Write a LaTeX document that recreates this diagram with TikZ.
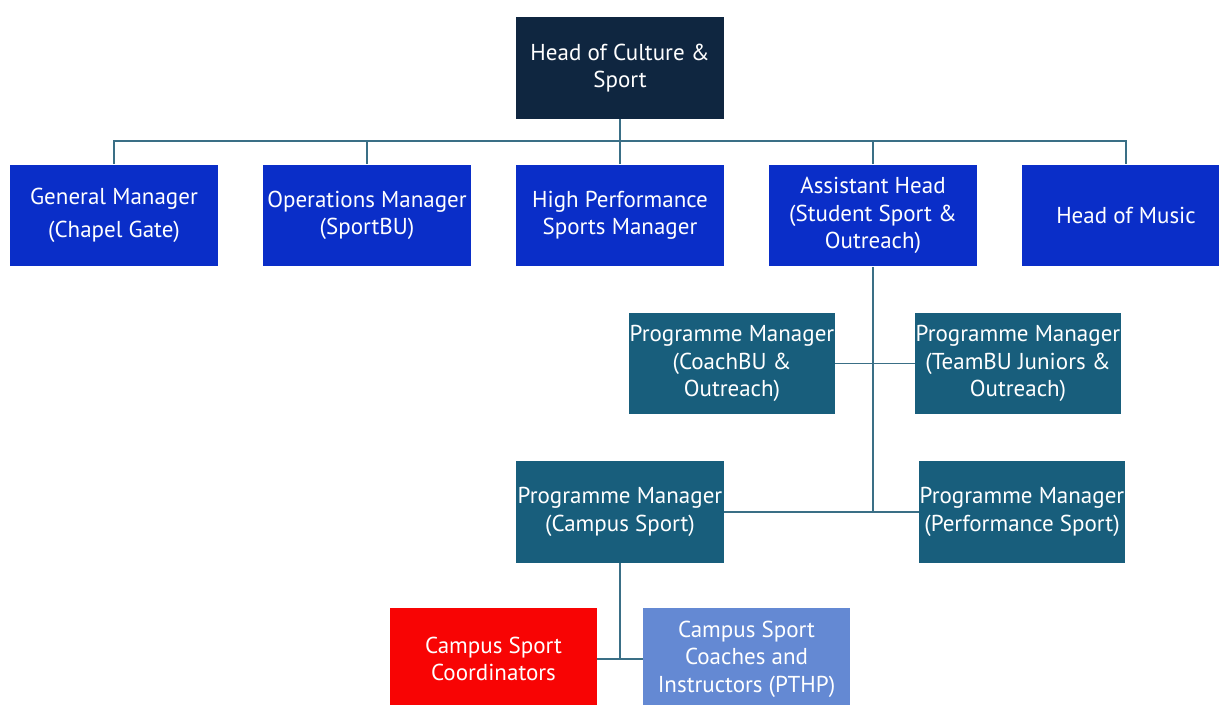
\documentclass[tikz,border=0pt]{standalone}
\usepackage{fontspec}
\setmainfont{PT Sans}
\usepackage{xcolor}
\usepackage{tikz}
\usetikzlibrary{positioning, calc}

\definecolor{headnavy}{HTML}{0F2640}
\definecolor{deptblue}{HTML}{0A2EC8}
\definecolor{progteal}{HTML}{185E7C}
\definecolor{coordred}{HTML}{F80404}
\definecolor{coachblue}{HTML}{6489D3}
\definecolor{linkteal}{HTML}{3A6F86}

\begin{document}
\begin{tikzpicture}[x=0.02cm, y=-0.02cm,
    role/.style={text=white, align=center, inner sep=0pt, minimum width=4.16cm, minimum height=2.04cm,
                 font=\fontsize{13.1}{15.6}\selectfont},
    narrow/.style={minimum width=4.12cm},
    link/.style={draw=linkteal, line width=0.8pt}]
    \useasboundingbox (0,0) rectangle (1219,704);

    % Top level
    \node[role, fill=headnavy] (head) at (620,68) {Head of Culture \&\\Sport};

    % Second level
    \node[role, fill=deptblue] (gm)    at (114,215.5)  {General Manager\\[3pt](Chapel Gate)};
    \node[role, fill=deptblue] (ops)   at (367,215.5)  {Operations Manager\\(SportBU)};
    \node[role, fill=deptblue] (hpsm)  at (620,215.5)  {High Performance\\Sports Manager};
    \node[role, fill=deptblue] (ast)   at (873,215.5)  {Assistant Head\\(Student Sport \&\\Outreach)};
    \node[role, fill=deptblue] (music) at (1126,215.5) {Head of Music};

    % Programme managers
    \node[role, narrow, fill=progteal, minimum height=2.02cm] (pmcoach) at (732,363.5)  {Programme Manager\\(CoachBU \&\\Outreach)};
    \node[role, narrow, fill=progteal, minimum height=2.02cm] (pmteam)  at (1018,363.5) {Programme Manager\\(TeamBU Juniors \&\\Outreach)};
    \node[role, fill=progteal] (pmcs) at (620,512) {Programme Manager\\(Campus Sport)};
    \node[role, narrow, fill=progteal] (pmperf) at (1022,512) {Programme Manager\\(Performance Sport)};

    % Campus sport staff
    \node[role, fill=coordred, minimum width=4.14cm]  (coord) at (493.5,659) {Campus Sport\\Coordinators};
    \node[role, fill=coachblue, minimum width=4.14cm] (coach) at (746.5,659) {Campus Sport\\Coaches and\\Instructors (PTHP)};

    % Connectors
    \coordinate (bus) at (620,141);
    \draw[link] (head.south) -- (bus);
    \draw[link] (gm.north) -- (gm.north |- bus) -- (music.north |- bus) -- (music.north);
    \foreach \n in {ops, hpsm, ast}
        \draw[link] (\n.north) -- (\n.north |- bus);

    \draw[link] (ast.south) -- (ast.south |- pmcs.east);
    \draw[link] (pmcoach.east) -- (pmteam.west);
    \draw[link] (pmcs.east) -- (pmperf.west);

    \draw[link] (pmcs.south) -- (pmcs.south |- coord.east);
    \draw[link] (coord.east) -- (coach.west);
\end{tikzpicture}
\end{document}
